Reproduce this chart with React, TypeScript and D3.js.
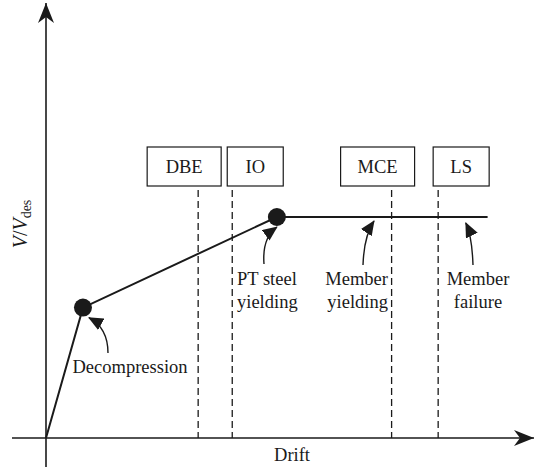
import React, { useRef, useEffect } from "react";
import * as d3 from "d3";

// curve points (drift, V/Vdes)
const curveDrift = [0, 0.77, 4.81, 9.2];
const curveShear = [0, 0.59, 1.0, 1.0];

// performance levels (dashed lines + boxed labels)
const levelNames = ["DBE", "IO", "MCE", "LS"];
const levelDrift = [3.17, 3.88, 7.2, 8.17];

// state annotations
const stateLabels = [["Decompression"], ["PT steel", "yielding"], ["Member", "yielding"], ["Member", "failure"]];
const stateDrift = [0.77, 4.81, 7.0, 8.85];
const stateShear = [0.59, 1.0, 1.0, 1.0];

const W = 536;
const H = 472;

const App = () => {
  const ref = useRef(null);

  useEffect(() => {
    const svg = d3.select(ref.current);
    svg.selectAll("*").remove();

    const x = d3.scaleLinear().domain([0, 10]).range([46, 526]);
    const y = d3.scaleLinear().domain([0, 1]).range([438, 217]);
    const font = "Liberation Serif, Times New Roman, serif";
    const ink = "#1a1a1a";
    const fs = 18.5;

    const defs = svg.append("defs");
    defs
      .append("marker")
      .attr("id", "axisHead")
      .attr("viewBox", "0 0 20 16")
      .attr("refX", 20)
      .attr("refY", 8)
      .attr("markerWidth", 20)
      .attr("markerHeight", 16)
      .attr("markerUnits", "userSpaceOnUse")
      .attr("orient", "auto")
      .append("path")
      .attr("d", "M0,0 L20,8 L0,16 L6,8 Z")
      .attr("fill", ink);
    defs
      .append("marker")
      .attr("id", "noteHead")
      .attr("viewBox", "0 0 15 13")
      .attr("refX", 14)
      .attr("refY", 6.5)
      .attr("markerWidth", 15)
      .attr("markerHeight", 13)
      .attr("markerUnits", "userSpaceOnUse")
      .attr("orient", "auto")
      .append("path")
      .attr("d", "M0,0 L15,6.5 L0,13 Z")
      .attr("fill", ink);

    // axes
    svg
      .append("line")
      .attr("x1", 12)
      .attr("x2", 534)
      .attr("y1", y(0))
      .attr("y2", y(0))
      .attr("stroke", ink)
      .attr("stroke-width", 1.6)
      .attr("marker-end", "url(#axisHead)");
    svg
      .append("line")
      .attr("x1", x(0))
      .attr("x2", x(0))
      .attr("y1", 467)
      .attr("y2", 3)
      .attr("stroke", ink)
      .attr("stroke-width", 1.6)
      .attr("marker-end", "url(#axisHead)");

    // dashed level lines and boxes
    levelNames.forEach((name, i) => {
      const lx = x(levelDrift[i]);
      svg
        .append("line")
        .attr("x1", lx)
        .attr("x2", lx)
        .attr("y1", 190)
        .attr("y2", y(0))
        .attr("stroke", ink)
        .attr("stroke-width", 1.3)
        .attr("stroke-dasharray", "7,4");
      const bw = name.length > 2 ? 74 : 56;
      const bx = name.length > 2 ? lx - 51 : lx - 5;
      svg
        .append("rect")
        .attr("x", bx)
        .attr("y", 147)
        .attr("width", bw)
        .attr("height", 39)
        .attr("fill", "white")
        .attr("stroke", ink)
        .attr("stroke-width", 1.2);
      svg
        .append("text")
        .attr("x", bx + bw / 2)
        .attr("y", 173)
        .attr("text-anchor", "middle")
        .style("font-family", font)
        .style("font-size", `${fs}px`)
        .attr("fill", ink)
        .text(name);
    });

    // pushover curve
    const pts = curveDrift.map((d, i) => [x(d), y(curveShear[i])]);
    svg
      .append("path")
      .attr("d", d3.line()(pts))
      .attr("fill", "none")
      .attr("stroke", ink)
      .attr("stroke-width", 2);
    svg
      .selectAll(".dot")
      .data([1, 2])
      .enter()
      .append("circle")
      .attr("cx", (i) => pts[i][0])
      .attr("cy", (i) => pts[i][1])
      .attr("r", 9)
      .attr("fill", ink);

    // annotations: text + curved arrow
    const notes = [
      { tx: 130, ty: 373, anchor: "middle", from: [108, 353], c: [108, 328], off: [6, 10] },
      { tx: 237, ty: 285, anchor: "start", from: [264, 264], c: [262, 238], off: [0, 10] },
      { tx: 388, ty: 285, anchor: "end", from: [363, 265], c: [364, 236], off: [-8, 4] },
      { tx: 478, ty: 285, anchor: "middle", from: [473, 265], c: [472, 236], off: [-5, 6] },
    ];
    notes.forEach((n, i) => {
      const px = x(stateDrift[i]) + n.off[0];
      const py = y(stateShear[i]) + n.off[1];
      svg
        .append("path")
        .attr("d", `M${n.from[0]},${n.from[1]} Q${n.c[0]},${n.c[1]} ${px},${py}`)
        .attr("fill", "none")
        .attr("stroke", ink)
        .attr("stroke-width", 1.4)
        .attr("marker-end", "url(#noteHead)");
      const t = svg
        .append("text")
        .attr("x", n.tx)
        .attr("y", n.ty)
        .attr("text-anchor", n.anchor)
        .style("font-family", font)
        .style("font-size", `${fs}px`)
        .attr("fill", ink);
      stateLabels[i].forEach((line, j) => {
        t.append("tspan").attr("x", n.tx).attr("dy", j === 0 ? 0 : 23).text(line);
      });
    });

    // axis titles
    svg
      .append("text")
      .attr("x", 292)
      .attr("y", 461)
      .attr("text-anchor", "middle")
      .style("font-family", font)
      .style("font-size", `${fs}px`)
      .attr("fill", ink)
      .text("Drift");
    const yl = svg
      .append("text")
      .attr("transform", "translate(27,224) rotate(-90)")
      .attr("text-anchor", "middle")
      .style("font-family", font)
      .style("font-size", "20px")
      .attr("fill", ink);
    yl.append("tspan").attr("font-style", "italic").text("V");
    yl.append("tspan").text("/");
    yl.append("tspan").attr("font-style", "italic").text("V");
    yl.append("tspan").style("font-size", "14px").attr("dy", 4).text("des");
  }, []);

  return (
    <div style={{ position: "absolute", left: 0, top: 0 }}>
      <svg ref={ref} width={W} height={H} style={{ display: "block", background: "white" }}></svg>
    </div>
  );
};

export default App;
